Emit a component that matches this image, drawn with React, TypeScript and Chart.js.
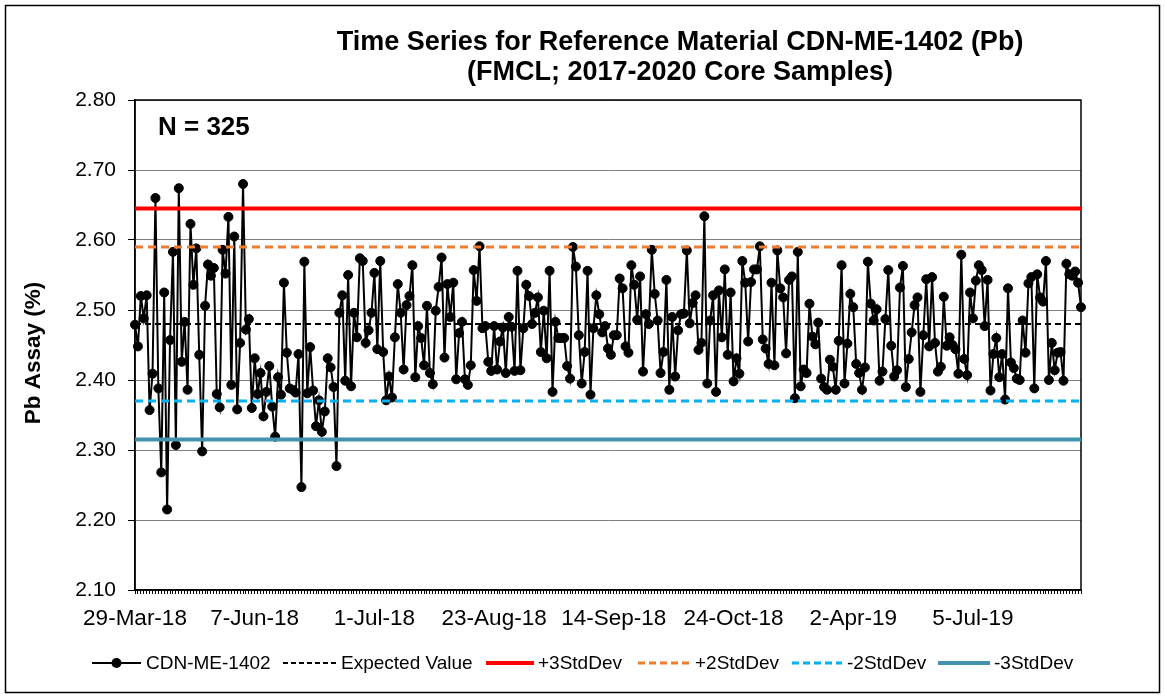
import React, { useEffect, useRef } from "react";
import { Chart, registerables } from "chart.js";

Chart.register(...registerables);

const titleLines = ["Time Series for Reference Material CDN-ME-1402 (Pb)", "(FMCL; 2017-2020 Core Samples)"];
const yAxisTitle = "Pb Assay (%)";
const countLabel = "N = 325";

const tickDates = ["29-Mar-18", "7-Jun-18", "1-Jul-18", "23-Aug-18", "14-Sep-18", "24-Oct-18", "2-Apr-19", "5-Jul-19"];
const labelStep = 41;

const assaySeg1 = [2.479, 2.448, 2.52, 2.488, 2.521, 2.357, 2.409, 2.66, 2.388, 2.268, 2.525, 2.215, 2.457, 2.583, 2.307, 2.674, 2.426, 2.483, 2.386, 2.623, 2.536, 2.588, 2.436, 2.298, 2.506, 2.565, 2.549, 2.56, 2.38, 2.361, 2.586, 2.552, 2.633, 2.393, 2.605, 2.358, 2.453, 2.68];
const assaySeg2 = [2.472, 2.487, 2.36, 2.431, 2.38, 2.41, 2.348, 2.383, 2.42, 2.362, 2.319, 2.404, 2.379, 2.539, 2.439, 2.388, 2.386, 2.382, 2.437, 2.247, 2.569, 2.381, 2.447, 2.385, 2.334, 2.371, 2.326, 2.355, 2.431, 2.418, 2.39, 2.277, 2.496, 2.521, 2.399, 2.55, 2.391, 2.496, 2.461, 2.574];
const assaySeg3 = [2.57, 2.453, 2.471, 2.496, 2.553, 2.444, 2.57, 2.44, 2.371, 2.405, 2.375, 2.461, 2.537, 2.496, 2.415, 2.507, 2.52, 2.564, 2.404, 2.477, 2.46, 2.421, 2.506, 2.41, 2.394, 2.499, 2.533, 2.575, 2.432, 2.537, 2.49, 2.539, 2.401, 2.467, 2.483, 2.401, 2.393, 2.421, 2.557];
const assaySeg4 = [2.513, 2.591, 2.474, 2.477, 2.426, 2.413, 2.477, 2.415, 2.455, 2.475, 2.41, 2.49, 2.476, 2.413, 2.556, 2.414, 2.474, 2.536, 2.52, 2.48, 2.496, 2.518, 2.44, 2.499, 2.431, 2.556, 2.383, 2.483, 2.46, 2.46, 2.46, 2.42, 2.402, 2.59, 2.562, 2.464, 2.395, 2.44, 2.556];
const assaySeg5 = [2.379, 2.474, 2.521, 2.494, 2.468, 2.477, 2.445, 2.436, 2.464, 2.464, 2.545, 2.531, 2.448, 2.439, 2.564, 2.536, 2.486, 2.548, 2.412, 2.494, 2.48, 2.586, 2.523, 2.485, 2.41, 2.44, 2.543, 2.386, 2.49, 2.405, 2.471, 2.494, 2.495, 2.585, 2.481, 2.51, 2.521, 2.443];
const assaySeg6 = [2.453, 2.634, 2.395, 2.485, 2.521, 2.383, 2.528, 2.461, 2.558, 2.436, 2.525, 2.398, 2.431, 2.409, 2.57, 2.539, 2.455, 2.54, 2.558, 2.558, 2.591, 2.458, 2.445, 2.423, 2.539, 2.421, 2.585, 2.531, 2.518, 2.438, 2.543, 2.548, 2.374, 2.583, 2.391, 2.415, 2.41, 2.509, 2.462];
const assaySeg7 = [2.451, 2.482, 2.402, 2.39, 2.386, 2.429, 2.419, 2.386, 2.456, 2.564, 2.395, 2.452, 2.523, 2.504, 2.423, 2.41, 2.386, 2.418, 2.569, 2.509, 2.485, 2.501, 2.399, 2.412, 2.487, 2.557, 2.449, 2.405, 2.414, 2.532, 2.563, 2.39, 2.43, 2.468, 2.507, 2.518, 2.383, 2.464, 2.544, 2.448];
const assaySeg8 = [2.547, 2.453, 2.412, 2.419, 2.519, 2.449, 2.461, 2.45, 2.444, 2.409, 2.579, 2.43, 2.407, 2.525, 2.488, 2.542, 2.564, 2.557, 2.477, 2.543, 2.385, 2.437, 2.46, 2.404, 2.437, 2.372, 2.531, 2.425, 2.417, 2.402, 2.4, 2.485, 2.439, 2.538, 2.547, 2.388, 2.551, 2.518, 2.512, 2.57, 2.4, 2.453, 2.414, 2.439, 2.44, 2.399, 2.566, 2.551, 2.549, 2.555, 2.539, 2.504];

const assayValues = [...assaySeg1, ...assaySeg2, ...assaySeg3, ...assaySeg4, ...assaySeg5, ...assaySeg6, ...assaySeg7, ...assaySeg8];

const expectedValue = 2.48;
const plus3Sd = 2.645;
const plus2Sd = 2.59;
const minus2Sd = 2.37;
const minus3Sd = 2.315;

const yMin = 2.1;
const yMax = 2.8;
const yStep = 0.1;

const FONT = "'Liberation Sans', Arial, sans-serif";

const categories = assayValues.map((_, i) => (i % labelStep === 0 ? tickDates[i / labelStep] || "" : ""));

const legendItems = [
  { label: "CDN-ME-1402", color: "#000000", width: 2, dash: [] as number[], marker: true, x0: 92, x1: 141, tx: 146 },
  { label: "Expected Value", color: "#000000", width: 2, dash: [5, 3], marker: false, x0: 283, x1: 336, tx: 341 },
  { label: "+3StdDev", color: "#FF0000", width: 4, dash: [] as number[], marker: false, x0: 486, x1: 534, tx: 538 },
  { label: "+2StdDev", color: "#ED7D31", width: 3, dash: [7, 4], marker: false, x0: 638, x1: 691, tx: 695 },
  { label: "-2StdDev", color: "#00B0F0", width: 3, dash: [7, 4], marker: false, x0: 792, x1: 842, tx: 847 },
  { label: "-3StdDev", color: "#4393AE", width: 4, dash: [] as number[], marker: false, x0: 938, x1: 990, tx: 994 },
];

const decorPlugin = {
  id: "decor",
  beforeDatasetsDraw(chart: any) {
    const { ctx, chartArea } = chart;
    ctx.save();
    ctx.strokeStyle = "#000";
    ctx.lineWidth = 1.5;
    ctx.strokeRect(chartArea.left, chartArea.top, chartArea.right - chartArea.left, chartArea.bottom - chartArea.top);
    ctx.restore();
  },
  afterDraw(chart: any) {
    const { ctx } = chart;
    ctx.save();
    // outer border
    ctx.strokeStyle = "#000";
    ctx.lineWidth = 1.5;
    ctx.strokeRect(5.5, 5.5, 1154, 687);

    // title
    ctx.fillStyle = "#000";
    ctx.textAlign = "center";
    ctx.textBaseline = "middle";
    ctx.font = `bold 27px ${FONT}`;
    ctx.fillText(titleLines[0], 680, 43);
    ctx.fillText(titleLines[1], 680, 73);

    // N label
    ctx.textAlign = "left";
    ctx.font = `bold 26px ${FONT}`;
    ctx.fillText(countLabel, 158, 128);

    // y title
    ctx.save();
    ctx.translate(34, 353);
    ctx.rotate(-Math.PI / 2);
    ctx.textAlign = "center";
    ctx.font = `bold 22.5px ${FONT}`;
    ctx.fillText(yAxisTitle, 0, 0);
    ctx.restore();

    // legend
    const ly = 663;
    ctx.font = `19px ${FONT}`;
    ctx.textAlign = "left";
    ctx.textBaseline = "middle";
    legendItems.forEach((it) => {
      ctx.save();
      ctx.strokeStyle = it.color;
      ctx.lineWidth = it.width;
      ctx.setLineDash(it.dash);
      ctx.beginPath();
      ctx.moveTo(it.x0, ly);
      ctx.lineTo(it.x1, ly);
      ctx.stroke();
      ctx.setLineDash([]);
      if (it.marker) {
        ctx.fillStyle = it.color;
        ctx.beginPath();
        ctx.arc((it.x0 + it.x1) / 2, ly, 5, 0, Math.PI * 2);
        ctx.fill();
      }
      ctx.restore();
      ctx.fillStyle = "#000";
      ctx.fillText(it.label, it.tx, ly + 1);
    });
    ctx.restore();
  },
};

function constLine(v: number) {
  return assayValues.map(() => v);
}

export default function App() {
  const canvasRef = useRef<HTMLCanvasElement | null>(null);

  useEffect(() => {
    if (!canvasRef.current) return;
    const chart = new Chart(canvasRef.current, {
      type: "line",
      data: {
        labels: categories,
        datasets: [
          { label: "-3StdDev", data: constLine(minus3Sd), borderColor: "#4393AE", borderWidth: 4, pointRadius: 0, order: 1 },
          { label: "-2StdDev", data: constLine(minus2Sd), borderColor: "#00B0F0", borderWidth: 3, borderDash: [8, 5], pointRadius: 0, order: 2 },
          { label: "+2StdDev", data: constLine(plus2Sd), borderColor: "#ED7D31", borderWidth: 3, borderDash: [8, 5], pointRadius: 0, order: 3 },
          { label: "+3StdDev", data: constLine(plus3Sd), borderColor: "#FF0000", borderWidth: 4, pointRadius: 0, order: 4 },
          { label: "Expected Value", data: constLine(expectedValue), borderColor: "#000000", borderWidth: 2, borderDash: [6, 4], pointRadius: 0, order: 5 },
          {
            label: "CDN-ME-1402",
            data: assayValues,
            borderColor: "#000000",
            borderWidth: 2,
            pointRadius: 4.5,
            pointBorderWidth: 1,
            pointBackgroundColor: "#000000",
            pointBorderColor: "#000000",
            tension: 0,
            order: 10,
          },
        ],
      },
      options: {
        animation: false,
        responsive: true,
        maintainAspectRatio: false,
        layout: { padding: { left: 0, top: 100, right: 84, bottom: 0 } },
        plugins: {
          legend: { display: false },
          title: { display: false },
          tooltip: { enabled: false },
        },
        scales: {
          x: {
            type: "category",
            offset: false,
            afterFit: (scale: any) => {
              scale.height = 108;
            },
            grid: {
              display: true,
              drawOnChartArea: false,
              drawTicks: true,
              tickLength: 4,
              color: "#000",
              lineWidth: 1,
            },
            border: { display: true, color: "#000", width: 1.5 },
            ticks: {
              autoSkip: false,
              maxRotation: 0,
              minRotation: 0,
              padding: 11,
              color: "#000",
              font: { family: FONT, size: 22.5 },
              callback: (_v: any, i: number) => categories[i],
            },
          },
          y: {
            min: yMin,
            max: yMax,
            afterFit: (scale: any) => {
              scale.width = 135;
            },
            grid: {
              color: "#7f7f7f",
              lineWidth: 1,
              tickLength: 7,
              tickColor: "#000",
            },
            border: { display: true, color: "#000", width: 1.5 },
            ticks: {
              stepSize: yStep,
              padding: 12,
              color: "#000",
              font: { family: FONT, size: 21 },
              callback: (v: any) => Number(v).toFixed(2),
            },
          },
        },
      },
      plugins: [decorPlugin],
    });
    return () => chart.destroy();
  }, []);

  return (
    <div style={{ position: "fixed", left: 0, top: 0, width: 1165, height: 698, background: "#fff" }}>
      <canvas ref={canvasRef} />
    </div>
  );
}
